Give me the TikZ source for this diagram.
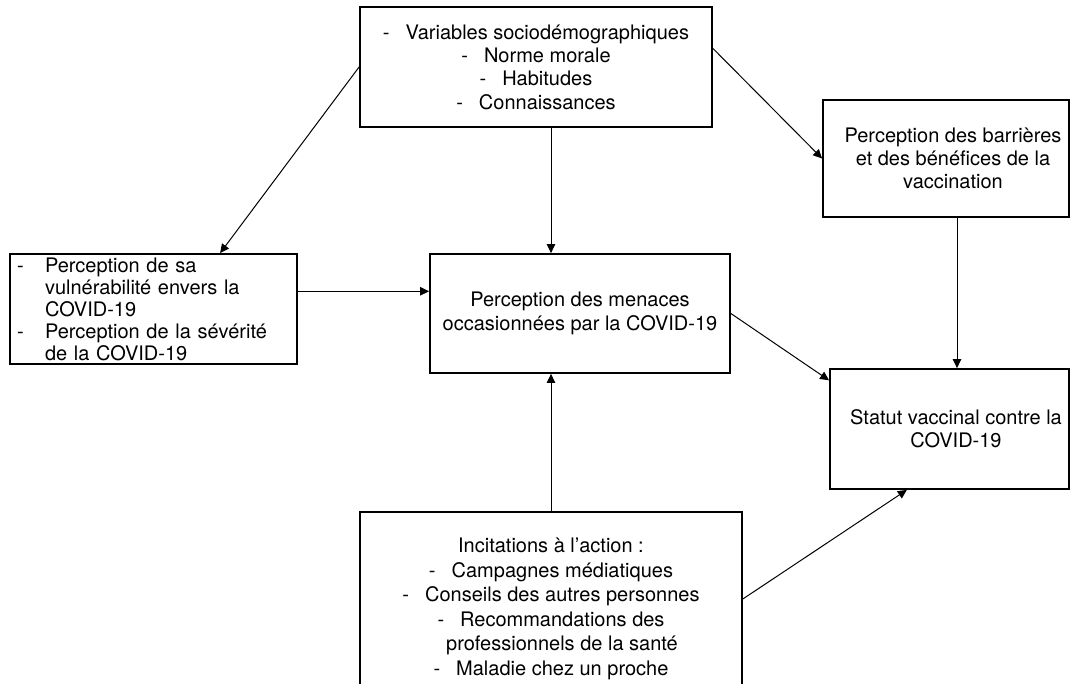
\documentclass[tikz,border=0pt]{standalone}
\usepackage{fontspec}
\setmainfont{TeX Gyre Heros}
\usetikzlibrary{arrows.meta}

\begin{document}
\begin{tikzpicture}[x=1pt,y=-1pt,
		box/.style={draw, line width=1.8pt, inner sep=0pt, align=center, font=\fontsize{20}{23.3}\selectfont},
		link/.style={line width=1pt, -{Triangle[length=9pt,width=8.5pt]}}]
	\useasboundingbox (0,0) rectangle (1071,684);
	\clip (0,0) rectangle (1071,684);
	%
	\node (vars) [box, minimum width=352, minimum height=120] at (536,67) {-\hspace{0.8em}Variables sociodémographiques\\ -\hspace{0.8em}Norme morale\\ -\hspace{0.8em}Habitudes\\ -\hspace{0.8em}Connaissances};
	%
	\node (barr) [box, minimum width=246, minimum height=117] at (946,158.5) {\hspace*{14pt}Perception des barrières\\ \hspace*{14pt}et des bénéfices de la\\ \hspace*{14pt}vaccination};
	%
	\node (risk) [box, align=left, text width=273, inner xsep=7, minimum height=110, font=\fontsize{20}{22}\selectfont] at (153.5,309) {\makebox[28pt][l]{-}Perception de sa\\ \hspace*{28pt}vulnérabilité envers la\\ \hspace*{28pt}COVID-19\\ \makebox[28pt][l]{-}Perception de la sévérité\\ \hspace*{28pt}de la COVID-19};
	%
	\node (threat) [box, minimum width=300, minimum height=119] at (580,313.5) {Perception des menaces\\ occasionnées par la COVID-19};
	%
	\node (status) [box, minimum width=239, minimum height=120] at (949.5,429) {\hspace*{13pt}Statut vaccinal contre la\\ \hspace*{13pt}COVID-19};
	%
	\node (incit) [box, minimum width=382, minimum height=194, font=\fontsize{20}{24.5}\selectfont] at (551,609) {Incitations à l’action :\\ -\hspace{0.8em}Campagnes médiatiques\\ -\hspace{0.8em}Conseils des autres personnes\\ -\hspace{0.8em}Recommandations des\\ \hspace*{22pt}professionnels de la santé\\ -\hspace{0.8em}Maladie chez un proche};
	%
	\draw [link] (vars.west) -- (risk.40);
	\draw [link] (vars.6) -- (barr.west);
	\draw [link] (vars.south -| incit.north) -- (threat.north -| incit.north);
	\draw [link] (risk.7) -- (risk.7 -| threat.west);
	\draw [link] (threat.east) -- (status.158);
	\draw [link] ([xshift=11]barr.south) -- ([xshift=11]barr.south |- status.north);
	\draw [link] (incit.north) -- (incit.north |- threat.south);
	\draw [link] (incit.3) -- (status.235);
\end{tikzpicture}
\end{document}
